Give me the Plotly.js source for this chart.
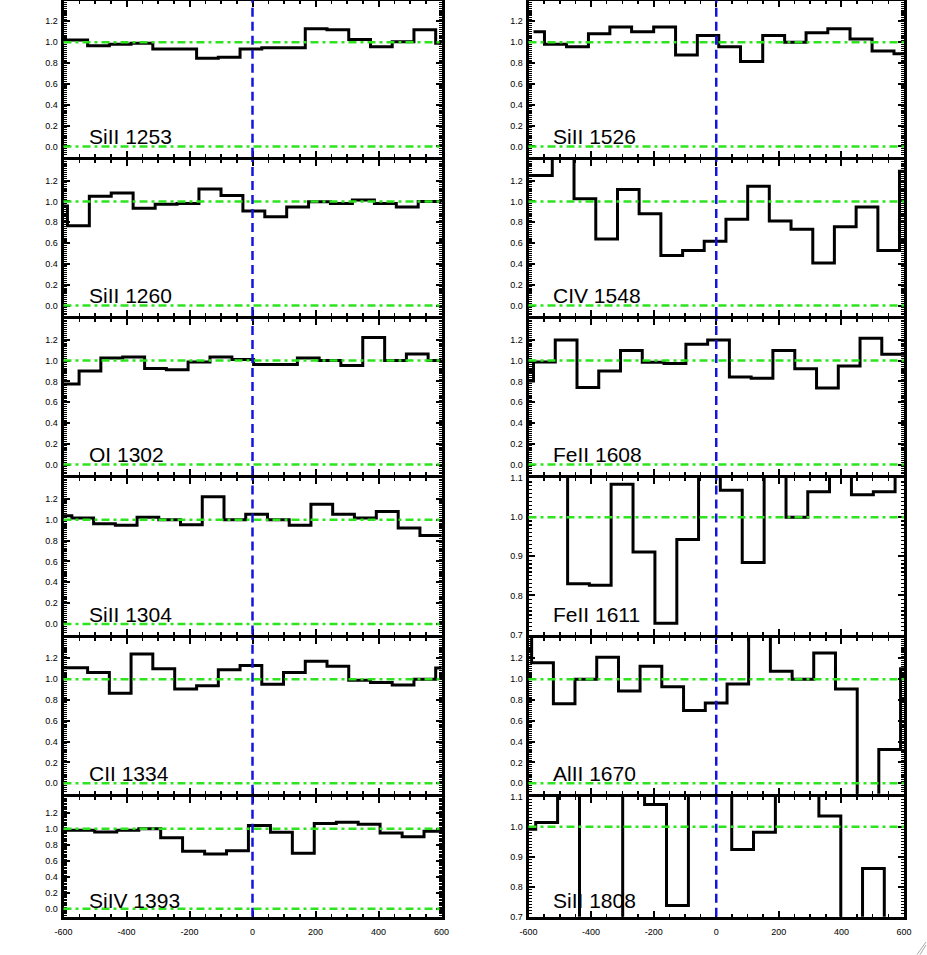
<!DOCTYPE html>
<html><head><meta charset="utf-8">
<script src="https://cdn.plot.ly/plotly-3.0.1.min.js"></script>
<style>html,body{margin:0;padding:0;background:#fff;overflow:hidden}#chart{position:absolute;left:0;top:-3px;width:927px;height:958px}</style>
</head><body><div id="chart"></div>
<script>
// ---------------- data (velocity km/s, normalised flux) ----------------
const vel_SiII1253 = [-627,-558,-489,-420,-351,-282,-212,-143,-74,-5,64,133,202,271,340,409,478,547,616];
const flux_SiII1253 = [1.02,1.02,0.965,0.98,0.99,0.934,0.934,0.845,0.855,0.934,0.946,0.946,1.13,1.12,1.025,0.956,1.003,1.12,0.99];

const vel_SiII1260 = [-622,-553,-483,-414,-344,-274,-205,-135,-65,4,74,143,213,282,352,422,491,561,630];
const flux_SiII1260 = [0.956,0.766,1.05,1.082,0.934,0.972,0.981,1.12,1.057,0.908,0.854,0.946,0.997,0.981,1.013,0.981,0.946,1.0,1.0];

const vel_OI1302 = [-654,-585,-516,-447,-377,-308,-239,-170,-100,-31,38,108,177,246,315,385,454,523,592,662];
const flux_OI1302 = [0.774,0.774,0.90,1.025,1.035,0.925,0.912,0.987,1.035,1.01,0.962,0.962,1.025,1.0,0.953,1.223,1.0,1.063,1.0,1.0];

const vel_SiII1304 = [-608,-539,-470,-401,-332,-263,-194,-125,-56,13,82,151,220,289,358,428,497,566,635];
const flux_SiII1304 = [1.038,1.016,0.962,0.947,1.025,1.0,0.953,1.22,1.0,1.053,1.0,0.947,1.148,1.053,1.016,1.079,0.921,0.849,0.849];

const vel_CII1334 = [-627,-558,-489,-420,-351,-282,-212,-143,-74,-5,64,133,202,271,340,409,478,547,616];
const flux_CII1334 = [1.11,1.11,1.063,0.865,1.242,1.10,0.906,0.937,1.091,1.132,0.95,1.063,1.173,1.123,0.99,0.969,0.943,1.0,1.107];

const vel_SiIV1393 = [-605,-536,-466,-396,-326,-257,-187,-117,-48,22,92,161,231,301,370,440,510,579,649];
const flux_SiIV1393 = [0.98,0.98,0.96,0.98,1.0,0.887,0.718,0.685,0.726,1.04,0.956,0.694,1.065,1.08,1.056,0.948,0.90,0.968,0.968];

const vel_SiII1526 = [-584,-514,-443,-374,-306,-235,-165,-95,-26,42,113,184,253,321,392,463,533,603];
const flux_SiII1526 = [1.10,0.98,0.956,1.08,1.145,1.10,1.145,0.877,1.063,0.956,0.814,1.063,1.0,1.09,1.13,1.03,0.915,0.89];

const vel_CIV1548 = [-628,-559,-489,-420,-350,-281,-212,-142,-73,-4,66,135,204,274,343,412,482,551,620];
const flux_CIV1548 = [1.25,1.25,1.5,1.025,0.639,1.114,0.883,0.481,0.528,0.617,0.829,1.146,0.813,0.734,0.408,0.756,0.946,0.528,1.29];

const vel_FeII1608 = [-619,-549,-480,-410,-341,-271,-202,-132,-62,7,77,146,216,286,355,425,494,564,633];
const flux_FeII1608 = [0.805,0.987,1.198,0.742,0.90,1.097,0.984,0.972,1.157,1.198,0.843,0.83,1.097,0.921,0.736,0.947,1.214,1.06,1.06];

const vel_FeII1611 = [-650,-580,-510,-440,-371,-301,-231,-161,-91,-22,48,118,188,258,327,397,467,537,606];
const flux_FeII1611 = [1.15,1.15,1.15,0.83,0.826,1.084,0.911,0.729,0.9425,1.15,1.069,0.884,1.15,1.0,1.065,1.15,1.057,1.065,1.15];

const vel_AlII1670 = [-625,-555,-486,-417,-347,-278,-209,-139,-70,0,69,138,208,277,346,416,485,554,624];
const flux_AlII1670 = [1.5,1.157,0.764,1.0,1.211,0.887,1.123,0.928,0.698,0.77,0.953,1.5,1.075,1.0,1.25,0.906,-0.2,0.324,1.10];

const vel_SiII1808 = [-612,-542,-472,-402,-334,-264,-194,-124,-54,15,84,154,224,293,363,433,502,572,641];
const flux_SiII1808 = [0.992,1.014,1.2,0.6,0.6,1.2,1.074,0.738,1.2,1.2,0.924,0.982,1.2,1.2,1.036,0.6,0.861,0.6,0.6];

const lineNames = ['SiII 1253','SiII 1260','OI 1302','SiII 1304','CII 1334','SiIV 1393',
                   'SiII 1526','CIV 1548','FeII 1608','FeII 1611','AlII 1670','SiII 1808'];
const velocities = [vel_SiII1253,vel_SiII1260,vel_OI1302,vel_SiII1304,vel_CII1334,vel_SiIV1393,
                    vel_SiII1526,vel_CIV1548,vel_FeII1608,vel_FeII1611,vel_AlII1670,vel_SiII1808];
const fluxes = [flux_SiII1253,flux_SiII1260,flux_OI1302,flux_SiII1304,flux_CII1334,flux_SiIV1393,
                flux_SiII1526,flux_CIV1548,flux_FeII1608,flux_FeII1611,flux_AlII1670,flux_SiII1808];

const xTickVals = [-600,-400,-200,0,200,400,600];
const xTickText = ['-600','-400','-200','0','200','400','600'];
const yTickValsWide = [0.0,0.2,0.4,0.6,0.8,1.0,1.2];
const yTickTextWide = ['0.0','0.2','0.4','0.6','0.8','1.0','1.2'];
const yTickValsNarrow = [0.7,0.8,0.9,1.0,1.1];
const yTickTextNarrow = ['0.7','0.8','0.9','1.0','1.1'];
const continuumLevel = 1.0;
const zeroLevel = 0.0;
const systemicVelocity = 0;

// ---------------- layout geometry ----------------
const W = 927, H = 958, OFF = 3, LW = 3;
const rowEdges = [-1, 158.3, 317.5, 476.5, 636, 795.2, 918.3];   // screen px, centre of frame lines
const colX = [[63.5, 441.5], [528.5, 904]];
const narrowPanels = {9: true, 11: true};

const data = [], shapes = [], annotations = [];
const layout = {
  width: W, height: H, margin: {l:0, r:0, t:0, b:0},
  paper_bgcolor: '#fff', plot_bgcolor: '#fff', showlegend: false,
  font: {family: 'Liberation Sans, Arial, sans-serif', color: '#000'}
};

const GREEN = 'rgb(45,228,30)', BLUE = 'rgb(20,20,225)';

for (let i = 0; i < 12; i++) {
  const col = i < 6 ? 0 : 1, row = i % 6;
  const k = i === 0 ? '' : String(i + 1);
  const xa = 'x' + k, ya = 'y' + k;
  const narrow = !!narrowPanels[i];
  const yr = narrow ? [0.7, 1.1] : [-0.1, 1.4];
  const bottom = row === 5;
  const topPx = rowEdges[row] + LW / 2, botPx = rowEdges[row + 1] - LW / 2;
  const top = 1 - (topPx + OFF) / H, bot = 1 - (botPx + OFF) / H;

  layout['xaxis' + k] = {
    domain: [colX[col][0] / W, colX[col][1] / W], range: [-600, 600], anchor: ya,
    showline: true, linewidth: LW, linecolor: '#000', mirror: 'ticks',
    ticks: 'inside', ticklen: 6, tickwidth: 2, tickcolor: '#000',
    tickmode: 'array', tickvals: xTickVals, ticktext: xTickText,
    showticklabels: bottom, tickfont: {size: 9, color: '#000'}, ticklabelstandoff: 4,
    minor: {ticks: 'inside', dtick: 50, tick0: 0, ticklen: 3, tickwidth: 1.5, tickcolor: '#000'},
    showgrid: false, zeroline: false, fixedrange: true
  };
  layout['yaxis' + k] = {
    domain: [bot, top], range: yr, anchor: xa,
    showline: true, linewidth: LW, linecolor: '#000', mirror: 'ticks',
    ticks: 'inside', ticklen: 6, tickwidth: 2, tickcolor: '#000',
    tickmode: 'array', tickvals: narrow ? yTickValsNarrow : yTickValsWide,
    ticktext: narrow ? yTickTextNarrow : yTickTextWide,
    tickfont: {size: 9, color: '#000'}, ticklabelstandoff: 1,
    minor: {ticks: 'inside', dtick: narrow ? 0.01 : 0.02, tick0: 0, ticklen: 3, tickwidth: 1.2, tickcolor: '#000'},
    showgrid: false, zeroline: false, fixedrange: true
  };

  data.push({x: velocities[i], y: fluxes[i], xaxis: xa, yaxis: ya, type: 'scatter', mode: 'lines',
             line: {shape: 'hvh', color: '#000', width: 3}, hoverinfo: 'skip'});

  const levels = [continuumLevel, zeroLevel].filter(v => v >= yr[0] && v <= yr[1]);
  levels.forEach(lv => shapes.push({type: 'line', layer: 'above', xref: xa + ' domain', x0: 0, x1: 1,
    yref: ya, y0: lv, y1: lv, line: {color: GREEN, width: 2.5, dash: '8px,4px,3px,4px'}}));
  shapes.push({type: 'line', layer: 'above', xref: xa, x0: systemicVelocity, x1: systemicVelocity,
    yref: ya + ' domain', y0: 0, y1: 1, line: {color: BLUE, width: 2.5, dash: '9px,5px'}});

  annotations.push({text: lineNames[i], xref: xa, x: -527, xanchor: 'left',
    yref: ya + ' domain', y: 0, yanchor: 'bottom', yshift: bottom ? 3 : 7, showarrow: false,
    font: {size: 21, color: '#000', family: 'Liberation Sans, Arial, sans-serif'}});
}

// window resize grip in the corner
[[0.4,0],[0.7,0.3]].forEach(function(p){
  shapes.push({type:'line', xref:'paper', yref:'paper',
    x0: (913 + p[0]*10)/W, y0: 1-(955+OFF)/H + 0.0005, x1: (926)/W, y1: 1-(955+OFF - 13 + p[1]*10)/H,
    line:{color:'rgb(170,170,170)', width:1}});
});

layout.shapes = shapes;
layout.annotations = annotations;
Plotly.newPlot('chart', data, layout, {staticPlot: true, displayModeBar: false});
</script>
</body></html>
